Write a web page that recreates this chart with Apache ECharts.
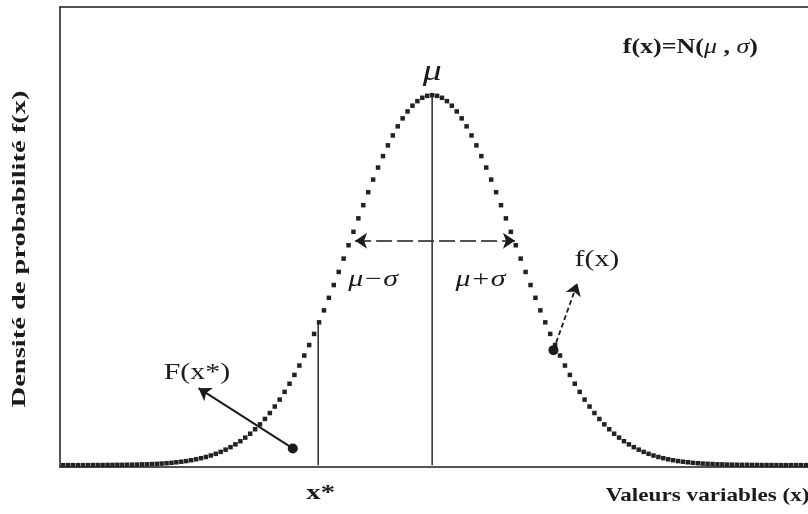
<!DOCTYPE html>
<html>
<head>
<meta charset="utf-8">
<script src="https://cdn.jsdelivr.net/npm/echarts@6/dist/echarts.min.js"></script>
<style>
  html, body { margin: 0; padding: 0; background: #fff; }
  #chart { width: 808px; height: 514px; }
</style>
</head>
<body>
<div id="chart"></div>
<script>
// x positions of the dots, in sigma units (mu = 0)
var xStart = -4.5;
var xStep = 0.06;

// dot heights (density)
var density = [
  0, 0, 0, 0, 0, 0, 0.0001, 0.0001, 0.0001, 0.0002, 0.0002, 0.0003, 0.0003,
  0.0004, 0.0005, 0.0006, 0.0008, 0.0009, 0.0012, 0.0014, 0.0017, 0.0021, 0.0025,
  0.0031, 0.0037, 0.0044, 0.0053, 0.0063, 0.0075, 0.0088, 0.0104, 0.0122, 0.0143,
  0.0167, 0.0194, 0.0224, 0.0258, 0.0297, 0.0339, 0.0387, 0.0440, 0.0498, 0.0562,
  0.0632, 0.0707, 0.0790, 0.0878, 0.0973, 0.1074, 0.1182, 0.1295, 0.1415, 0.1540,
  0.1669, 0.1804, 0.1942, 0.2083, 0.2227, 0.2371, 0.2516, 0.2661, 0.2803, 0.2943,
  0.3079, 0.3209, 0.3332, 0.3448, 0.3555, 0.3653, 0.3739, 0.3814, 0.3876, 0.3925,
  0.3961, 0.3982,
  0.3989,
  0.3982, 0.3961, 0.3925, 0.3876, 0.3814, 0.3739, 0.3653, 0.3555, 0.3448, 0.3332,
  0.3209, 0.3079, 0.2943, 0.2803, 0.2661, 0.2516, 0.2371, 0.2227, 0.2083, 0.1942,
  0.1804, 0.1669, 0.1540, 0.1415, 0.1295, 0.1182, 0.1074, 0.0973, 0.0878, 0.0790,
  0.0707, 0.0632, 0.0562, 0.0498, 0.0440, 0.0387, 0.0339, 0.0297, 0.0258, 0.0224,
  0.0194, 0.0167, 0.0143, 0.0122, 0.0104, 0.0088, 0.0075, 0.0063, 0.0053, 0.0044,
  0.0037, 0.0031, 0.0025, 0.0021, 0.0017, 0.0014, 0.0012, 0.0009, 0.0008, 0.0006,
  0.0005, 0.0004, 0.0003, 0.0003, 0.0002, 0.0002, 0.0001, 0.0001, 0.0001,
  0, 0, 0, 0, 0, 0, 0, 0
];

// annotations
var mu = 0;
var peak = 0.3989;
var xStar = -1.39;
var densityAtXStar = 0.152;
var sigmaLevel = 0.242;
var sigmaArrowEnds = [-0.94, 1.01];
var fPoint = [1.48, 0.124];
var fArrowHead = [1.77, 0.196];
var bigFPoint = [-1.70, 0.018];
var bigFArrowHead = [-2.85, 0.083];

var serif = '"Liberation Serif", "DejaVu Serif", serif';
var ink = '#1b1b1b';

var curveData = density.map(function (d, i) {
  return [xStart + i * xStep, d];
});

// label anchors in data units
var labels = [
  { at: [mu, 0.424], text: 'μ', font: 'italic 29px' },
  { at: [-0.72, 0.200], text: 'μ−σ', font: 'italic 23px' },
  { at: [0.59, 0.200], text: 'μ+σ', font: 'italic 23px' },
  { at: [2.01, 0.221], text: 'f(x)', font: '23px' },
  { at: [-2.87, 0.099], text: 'F(x*)', font: '23px' },
  { at: [xStar + 0.03, -0.030], text: 'x*', font: 'bold 22px' },
  { at: [3.36, -0.033], text: 'Valeurs variables (x)', font: 'bold 19px', scale: 1.22 }
];
var formulaAt = [3.15, 0.450];

var chart = echarts.init(document.getElementById('chart'));

var axisBase = {
  axisTick: { show: false }, axisLabel: { show: false }, splitLine: { show: false }
};

var option = {
  backgroundColor: '#fff',
  animation: false,
  grid: { left: 60, right: 0, top: 7, bottom: 47 },
  xAxis: [
    Object.assign({
      type: 'value', min: -4.54, max: 4.585, position: 'bottom',
      axisLine: { show: true, onZero: false, lineStyle: { color: ink, width: 1.5 } }
    }, axisBase),
    Object.assign({
      type: 'value', min: -4.54, max: 4.585, position: 'top',
      axisLine: { show: true, onZero: false, lineStyle: { color: ink, width: 1.5 } }
    }, axisBase)
  ],
  yAxis: Object.assign({
    type: 'value', min: -0.002, max: 0.494,
    axisLine: { show: true, onZero: false, lineStyle: { color: ink, width: 1.5 } }
  }, axisBase),
  series: [
    {
      name: 'mu line', type: 'line', silent: true, showSymbol: false,
      data: [[mu, 0], [mu, peak]],
      lineStyle: { color: '#2a2a2a', width: 1.5 }
    },
    {
      name: 'x* line', type: 'line', silent: true, showSymbol: false,
      data: [[xStar, 0], [xStar, densityAtXStar]],
      lineStyle: { color: '#2a2a2a', width: 1.5 }
    },
    {
      name: 'f(x)', type: 'scatter', silent: true,
      symbol: 'rect', symbolSize: 4.5,
      itemStyle: { color: '#222', opacity: 1 },
      data: curveData
    },
    {
      name: 'arrows', type: 'lines', coordinateSystem: 'cartesian2d', silent: true,
      symbol: ['none', 'arrow'], symbolSize: 12,
      data: [
        { coords: [bigFPoint, bigFArrowHead], lineStyle: { type: 'solid', width: 2 } },
        { coords: [fPoint, fArrowHead], lineStyle: { type: [5, 3], width: 1.8 } }
      ],
      lineStyle: { color: ink, width: 1.8, opacity: 1 }
    },
    {
      name: 'sigma arrow', type: 'lines', coordinateSystem: 'cartesian2d', silent: true,
      symbol: ['arrow', 'arrow'], symbolSize: 12,
      data: [
        { coords: [[sigmaArrowEnds[0], sigmaLevel], [sigmaArrowEnds[1], sigmaLevel]] }
      ],
      lineStyle: { color: ink, width: 1.6, type: [16, 5], opacity: 1 }
    },
    {
      name: 'points', type: 'scatter', silent: true,
      symbol: 'circle', symbolSize: 10,
      itemStyle: { color: ink, opacity: 1 },
      data: [bigFPoint, fPoint]
    }
  ]
};

chart.setOption(option);

// text annotations, placed through the grid's own scales
function px(p) {
  return chart.convertToPixel({ xAxisIndex: 0, yAxisIndex: 0 }, p);
}

var texts = labels.map(function (l) {
  var p = px(l.at);
  return {
    type: 'text', x: p[0], y: p[1], scaleX: l.scale || 1.3, z: 10,
    style: {
      text: l.text, fill: ink, font: l.font + ' ' + serif,
      align: 'center', verticalAlign: 'middle'
    }
  };
});

var fp = px(formulaAt);
texts.push({
  type: 'text', x: fp[0], y: fp[1], scaleX: 1.3, z: 10,
  style: {
    text: '{b|f(x)=N(}{i|μ}{b| , }{i|σ}{b|)}',
    align: 'center', verticalAlign: 'middle',
    rich: {
      b: { fontFamily: serif, fontSize: 20, fontWeight: 'bold', fill: ink },
      i: { fontFamily: serif, fontSize: 20, fontStyle: 'italic', fill: ink }
    }
  }
});

texts.push({
  type: 'text', x: 20, y: 249, rotation: Math.PI / 2, scaleX: 1.5, z: 10,
  style: {
    text: 'Densité de probabilité f(x)', fill: ink,
    font: 'bold 19px ' + serif, align: 'center', verticalAlign: 'middle'
  }
});

chart.setOption({ graphic: texts });
window.addEventListener('resize', chart.resize);
</script>
</body>
</html>
